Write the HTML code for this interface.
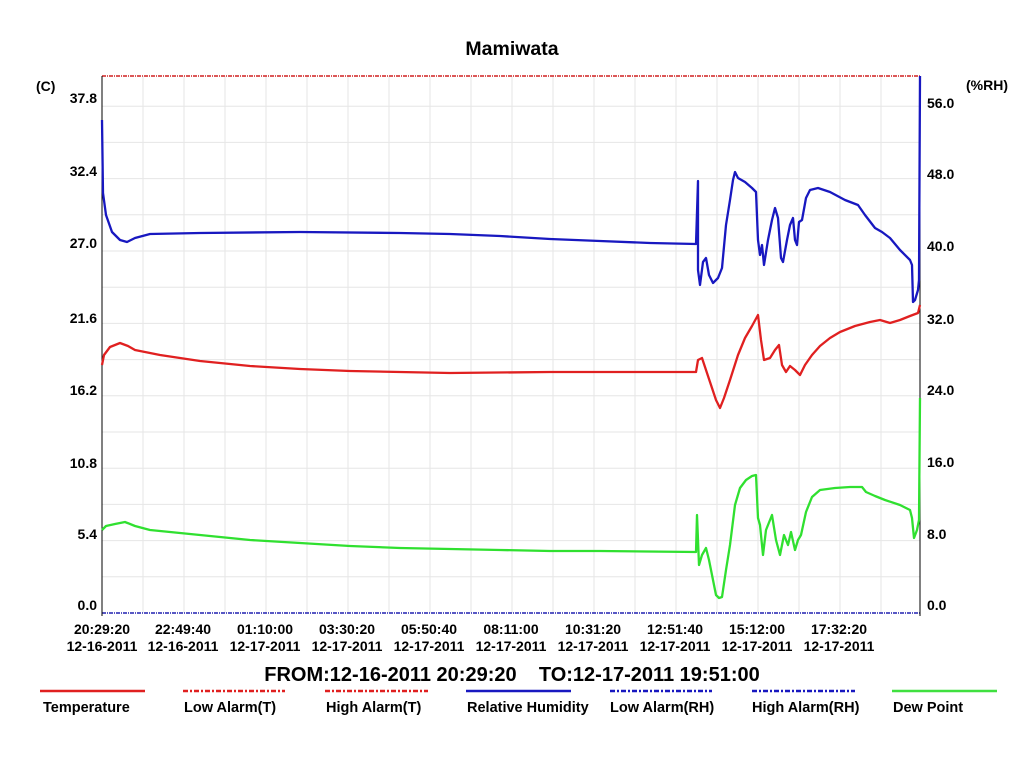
<!DOCTYPE html><html><head><style>body{margin:0;background:#fff}svg{display:block}text{font-family:"Liberation Sans",Arial,sans-serif;font-weight:bold}</style></head><body>
<svg width="1024" height="768" viewBox="0 0 1024 768" xmlns="http://www.w3.org/2000/svg">
<text x="512" y="55" font-size="19.5" text-anchor="middle">Mamiwata</text>
<g stroke="#e6e6e6" stroke-width="1">
<line x1="102" x2="920" y1="106.2" y2="106.2"/><line x1="102" x2="920" y1="142.4" y2="142.4"/><line x1="102" x2="920" y1="178.6" y2="178.6"/><line x1="102" x2="920" y1="214.8" y2="214.8"/><line x1="102" x2="920" y1="251" y2="251"/><line x1="102" x2="920" y1="287.2" y2="287.2"/><line x1="102" x2="920" y1="323.4" y2="323.4"/><line x1="102" x2="920" y1="359.6" y2="359.6"/><line x1="102" x2="920" y1="395.8" y2="395.8"/><line x1="102" x2="920" y1="432" y2="432"/><line x1="102" x2="920" y1="468.2" y2="468.2"/><line x1="102" x2="920" y1="504.4" y2="504.4"/><line x1="102" x2="920" y1="540.6" y2="540.6"/><line x1="102" x2="920" y1="576.8" y2="576.8"/>
<line y1="76" y2="613" x1="143" x2="143"/><line y1="76" y2="613" x1="184" x2="184"/><line y1="76" y2="613" x1="225" x2="225"/><line y1="76" y2="613" x1="266" x2="266"/><line y1="76" y2="613" x1="307" x2="307"/><line y1="76" y2="613" x1="348" x2="348"/><line y1="76" y2="613" x1="389" x2="389"/><line y1="76" y2="613" x1="430" x2="430"/><line y1="76" y2="613" x1="471" x2="471"/><line y1="76" y2="613" x1="512" x2="512"/><line y1="76" y2="613" x1="553" x2="553"/><line y1="76" y2="613" x1="594" x2="594"/><line y1="76" y2="613" x1="635" x2="635"/><line y1="76" y2="613" x1="676" x2="676"/><line y1="76" y2="613" x1="717" x2="717"/><line y1="76" y2="613" x1="758" x2="758"/><line y1="76" y2="613" x1="799" x2="799"/><line y1="76" y2="613" x1="840" x2="840"/><line y1="76" y2="613" x1="881" x2="881"/>
</g>
<line x1="102" x2="920" y1="76" y2="76" stroke="#d02020" stroke-width="1.5" stroke-dasharray="4,1,1,1"/>
<line x1="102" x2="920" y1="613" y2="613" stroke="#2020b0" stroke-width="1.5" stroke-dasharray="4,1,1,1"/>
<line x1="102" x2="102" y1="76" y2="616" stroke="#000"/>
<line x1="920" x2="920" y1="76" y2="616" stroke="#000"/>
<g font-size="14" text-anchor="end">
<text x="97" y="610">0.0</text><text x="97" y="539">5.4</text><text x="97" y="468">10.8</text><text x="97" y="395">16.2</text><text x="97" y="323">21.6</text><text x="97" y="248">27.0</text><text x="97" y="176">32.4</text><text x="97" y="103">37.8</text>
</g>
<text x="36" y="91" font-size="14">(C)</text>
<g font-size="14">
<text x="927" y="610">0.0</text><text x="927" y="539">8.0</text><text x="927" y="467">16.0</text><text x="927" y="395">24.0</text><text x="927" y="324">32.0</text><text x="927" y="251">40.0</text><text x="927" y="179">48.0</text><text x="927" y="108">56.0</text><text x="966" y="90">(%RH)</text>
</g>
<g font-size="14" text-anchor="middle">
<text x="102" y="634">20:29:20</text><text x="102" y="651">12-16-2011</text>
<text x="183" y="634">22:49:40</text><text x="183" y="651">12-16-2011</text>
<text x="265" y="634">01:10:00</text><text x="265" y="651">12-17-2011</text>
<text x="347" y="634">03:30:20</text><text x="347" y="651">12-17-2011</text>
<text x="429" y="634">05:50:40</text><text x="429" y="651">12-17-2011</text>
<text x="511" y="634">08:11:00</text><text x="511" y="651">12-17-2011</text>
<text x="593" y="634">10:31:20</text><text x="593" y="651">12-17-2011</text>
<text x="675" y="634">12:51:40</text><text x="675" y="651">12-17-2011</text>
<text x="757" y="634">15:12:00</text><text x="757" y="651">12-17-2011</text>
<text x="839" y="634">17:32:20</text><text x="839" y="651">12-17-2011</text>
</g>
<g stroke-width="2.3" fill="none" stroke-linejoin="round">
<polyline stroke="#1818c0" points="102,120 103,193 106,215 112,232 120,240 127,242 135,238 150,234 200,233 300,232 400,233 450,234 500,236 550,239 600,241 650,243 696,244 698,181 698,270 700,285 703,262 706,258 709,275 713,283 718,278 722,268 726,225 730,200 733,180 735,172 738,178 745,182 752,188 756,192 758,240 760,255 762,245 764,265 768,240 772,220 775,208 778,218 781,258 783,262 787,240 790,225 793,218 795,240 797,245 799,222 802,220 806,198 810,190 818,188 830,192 845,200 858,205 865,215 875,228 882,232 890,238 900,250 910,260 912,265 913,302 915,300 918,290 919,280 920,76"/>
<polyline stroke="#e02020" points="102,365 104,355 110,347 120,343 128,346 135,350 160,355 200,361 250,366 300,369 350,371 450,373 550,372 600,372 696,372 698,360 702,358 706,370 711,385 716,400 720,408 724,398 730,380 738,355 745,338 752,326 758,315 761,340 764,360 770,358 775,350 779,345 782,365 786,372 790,366 795,370 800,375 805,365 812,355 820,346 830,338 840,332 855,326 870,322 880,320 890,323 900,320 910,316 918,313 920,305"/>
<polyline stroke="#30e030" points="102,530 106,526 115,524 125,522 135,526 150,530 200,535 250,540 300,543 350,546 400,548 450,549 500,550 550,551 600,551 696,552 697,515 699,565 702,555 706,548 709,560 712,575 716,595 719,598 722,597 726,570 730,545 735,505 740,488 746,480 752,476 756,475 758,518 760,525 763,555 766,530 772,515 776,540 780,555 784,535 788,545 791,532 795,550 798,540 801,535 806,512 812,497 820,490 835,488 850,487 862,487 866,492 875,496 885,500 900,505 910,510 912,518 914,538 917,530 919,520 920,398"/>
</g>
<text x="512" y="681" font-size="20" text-anchor="middle">FROM:12-16-2011 20:29:20&#160;&#160;&#160;&#160;TO:12-17-2011 19:51:00</text>
<g stroke-width="2.5">
<line x1="40" x2="145" y1="691" y2="691" stroke="#e02020"/>
<line x1="183" x2="285" y1="691" y2="691" stroke="#e02020" stroke-dasharray="5,2,2,2"/>
<line x1="325" x2="428" y1="691" y2="691" stroke="#e02020" stroke-dasharray="5,2,2,2"/>
<line x1="466" x2="571" y1="691" y2="691" stroke="#1818c0"/>
<line x1="610" x2="712" y1="691" y2="691" stroke="#1818c0" stroke-dasharray="5,2,2,2"/>
<line x1="752" x2="855" y1="691" y2="691" stroke="#1818c0" stroke-dasharray="5,2,2,2"/>
<line x1="892" x2="997" y1="691" y2="691" stroke="#40e040"/>
</g>
<g font-size="14.5">
<text x="43" y="712">Temperature</text><text x="184" y="712">Low Alarm(T)</text><text x="326" y="712">High Alarm(T)</text><text x="467" y="712">Relative Humidity</text><text x="610" y="712">Low Alarm(RH)</text><text x="752" y="712">High Alarm(RH)</text><text x="893" y="712">Dew Point</text>
</g>
</svg></body></html>
